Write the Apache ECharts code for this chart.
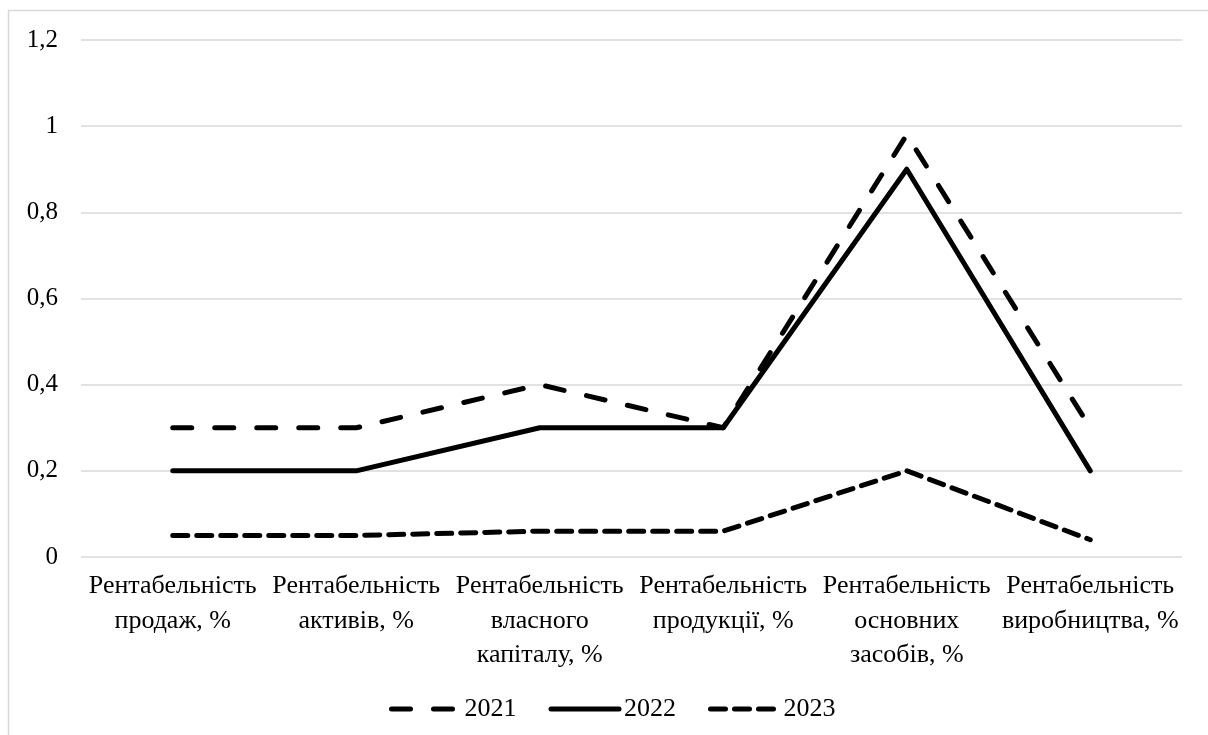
<!DOCTYPE html>
<html><head><meta charset="utf-8">
<script src="https://cdn.jsdelivr.net/npm/echarts@6/dist/echarts.min.js"></script>
<style>html,body{margin:0;padding:0;background:#fff}#c{width:1208px;height:735px}</style>
</head><body><div id="c"></div>
<script>
const categories = ['Рентабельність\nпродаж, %','Рентабельність\nактивів, %','Рентабельність\nвласного\nкапіталу, %','Рентабельність\nпродукції, %','Рентабельність\nосновних\nзасобів, %','Рентабельність\nвиробництва, %'];
const years = ['2021','2022','2023'];
const v2021 = [0.3, 0.3, 0.4, 0.3, 0.98, 0.3];
const v2022 = [0.2, 0.2, 0.3, 0.3, 0.9, 0.2];
const v2023 = [0.05, 0.05, 0.06, 0.06, 0.2, 0.04];

const font = 'Liberation Serif';
const dashes = {'2021':[19,23], '2022':'solid', '2023':[15,9]};
const chart = echarts.init(document.getElementById('c'));
const mk = (name, data) => ({
  name, type:'line', data, symbol:'none', silent:true,
  itemStyle:{color:'#000'},
  lineStyle:{color:'#000', width:5, type:dashes[name], cap:'round', join:'round'}
});
chart.setOption({
  animation:false,
  textStyle:{fontFamily:font},
  graphic:[{type:'rect', shape:{x:8.5,y:10.5,width:1210,height:740}, style:{fill:'none', stroke:'#d9d9d9', lineWidth:1.5}, silent:true}],
  grid:{left:81, right:26, top:40, bottom:178},
  xAxis:{type:'category', data:categories, boundaryGap:true,
    axisLine:{show:false}, axisTick:{show:false},
    axisLabel:{interval:0, color:'#000', fontSize:26, fontFamily:font, lineHeight:34.5, margin:12, verticalAlign:'top'}},
  yAxis:{type:'value', min:0, max:1.2, interval:0.2,
    axisLine:{show:false}, axisTick:{show:false},
    splitLine:{lineStyle:{color:'#d9d9d9', width:1.5}},
    axisLabel:{color:'#000', fontSize:25, fontFamily:font, margin:23,
      formatter:v=>String(Math.round(v*10)/10).replace('.',',')}},
  legend:{bottom:8, left:384, itemWidth:68, itemHeight:14, itemGap:32,
    itemStyle:{opacity:0},
    textStyle:{color:'#000', fontSize:26, fontFamily:font},
    data:years.map(y=>({name:y, itemStyle:{opacity:0}, lineStyle:{color:'#000', width:5, type:dashes[y], cap:'round'}}))},
  series:[mk('2021', v2021), mk('2022', v2022), mk('2023', v2023)]
});
</script></body></html>
